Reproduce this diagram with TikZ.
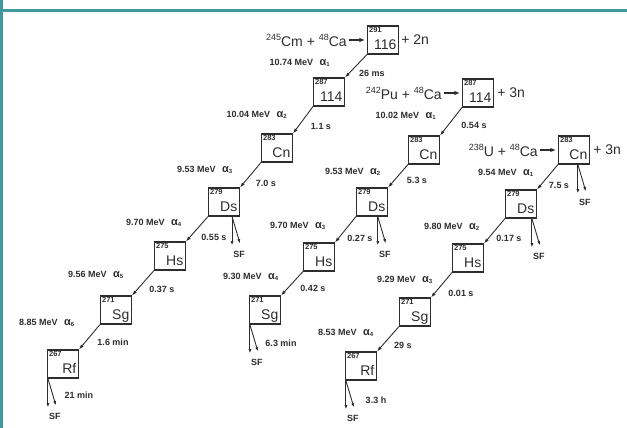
\documentclass[tikz,border=0pt]{standalone}
\usepackage{fontspec}
\setmainfont{Liberation Sans}
\usetikzlibrary{positioning, calc, arrows.meta}
\definecolor{framecol}{RGB}{64,152,158}
\definecolor{inkgray}{RGB}{45,45,45}
\newcommand{\alp}[1]{\ \,{\fontsize{11}{11}\selectfont α}\textsubscript{#1}}
\newcommand{\iso}[1]{\raisebox{0.42em}{\fontsize{9}{9}\selectfont #1}}
\tikzset{
  nucbox/.style={draw=inkgray, line width=1.1pt, minimum width=31pt, minimum height=28pt, inner sep=0pt},
  massno/.style={anchor=north west, inner sep=0pt, font=\fontsize{7.5}{7.5}\selectfont\bfseries, text=inkgray},
  elemsym/.style={anchor=base east, inner sep=0pt, font=\fontsize{14}{14}\selectfont, text=inkgray},
  rxn/.style={inner sep=0pt, font=\fontsize{14}{14}\selectfont, text=inkgray},
  rxnarrow/.style={draw=inkgray, line width=1.1pt, -{Latex[length=5.5pt,width=4.5pt]}, shorten >=2pt, shorten <=2pt},
  energy/.style={inner sep=0pt, font=\fontsize{9}{9}\selectfont\bfseries, text=inkgray},
  hlife/.style={inner sep=0pt, font=\fontsize{9}{9}\selectfont\bfseries, text=inkgray},
  adecay/.style={draw=inkgray, line width=0.9pt, -{Latex[length=5pt,width=3.5pt]}},
  sfarrow/.style={draw=inkgray, line width=0.9pt, -{Latex[length=4.5pt,width=3pt]}},
  sflabel/.style={inner sep=0pt, font=\fontsize{9}{9}\selectfont\bfseries, text=inkgray}
}
\newcommand{\nuc}[4]{%
  \node[nucbox] (#1) at (#2) {};
  \node[massno] (#1m) at ($(#1.north west)+(2,2)$) {#3};
  \node[elemsym] (#1s) at ($(#1.south east)+(-2.5,-5)$) {#4};
}

\begin{document}
\begin{tikzpicture}[x=1pt, y=-1pt]
  \useasboundingbox (0,0) rectangle (627,428);
  % frame
  \fill[framecol] (0,0) rectangle (3,428);
  \fill[framecol] (0,9) rectangle (627,12);

  % 245Cm chain
  \nuc{a116}{383,40}{291}{116}
  \nuc{a114}{329,92}{287}{114}
  \nuc{aCn}{277,148}{283}{Cn}
  \nuc{aDs}{224,202}{279}{Ds}
  \nuc{aHs}{170,256}{275}{Hs}
  \nuc{aSg}{116,310}{271}{Sg}
  \nuc{aRf}{63,364}{267}{Rf}
  % 242Pu chain
  \nuc{b114}{478,93}{287}{114}
  \nuc{bCn}{424,150}{283}{Cn}
  \nuc{bDs}{372,202}{279}{Ds}
  \nuc{bHs}{319,257}{275}{Hs}
  \nuc{bSg}{265,310}{271}{Sg}
  % 238U chain
  \nuc{cCn}{574,150}{283}{Cn}
  \nuc{cDs}{521,204}{279}{Ds}
  \nuc{cHs}{468,258}{275}{Hs}
  \nuc{cSg}{415,312}{271}{Sg}
  \nuc{cRf}{361,366}{267}{Rf}

  % reactions
  \node[rxn, left=20pt of a116] (aRx) {\iso{245}Cm + \iso{48}Ca};
  \node[rxn, right=2pt of a116] (aOut) {+ 2n};
  \node[rxn, left=20pt of b114] (bRx) {\iso{242}Pu + \iso{48}Ca};
  \node[rxn, right=3pt of b114] (bOut) {+ 3n};
  \node[rxn, left=20pt of cCn] (cRx) {\iso{238}U + \iso{48}Ca};
  \node[rxn, right=3pt of cCn] (cOut) {+ 3n};
  \foreach \r/\b in {aRx/a116, bRx/b114, cRx/cCn}
    \draw[rxnarrow] (\r) -- (\b);

  % alpha decays
  \foreach \u/\v in {a116/a114, a114/aCn, aCn/aDs, aDs/aHs, aHs/aSg, aSg/aRf,
                     b114/bCn, bCn/bDs, bDs/bHs, bHs/bSg,
                     cCn/cDs, cDs/cHs, cHs/cSg, cSg/cRf}
    \draw[adecay] (\u.south west) -- (\v.north east);

  % spontaneous fission
  \foreach \b/\f in {aDs/0.75, aRf/0.03, bDs/0.68, bSg/0.03, cCn/0.62, cDs/0.84, cRf/0.03}{
    \coordinate (\b F) at ($(\b.south west)!\f!(\b.south east)$);
    \coordinate (\b F1) at ($(\b F)+(0,29)$);
    \coordinate (\b F2) at ($(\b F)+(8,27)$);
    \draw[sfarrow] (\b F) -- (\b F1);
    \draw[sfarrow] (\b F) -- (\b F2);
    \node[sflabel] (\b SF) at ($(\b F)+(7,38)$) {SF};
  }

  % energies
  \foreach \x/\y/\t [count=\i] in {
      300/63/10.74 MeV \alp{1}, 257/115/10.04 MeV \alp{2}, 205/170/9.53 MeV \alp{3},
      154/223/9.70 MeV \alp{4}, 96/275/9.56 MeV \alp{5}, 47/323/8.85 MeV \alp{6},
      406/116/10.02 MeV \alp{1}, 353/172/9.53 MeV \alp{2}, 298/226/9.70 MeV \alp{3},
      251/277/9.30 MeV \alp{4},
      506/173/9.54 MeV \alp{1}, 452/227/9.80 MeV \alp{2}, 405/280/9.29 MeV \alp{3},
      346/333/8.53 MeV \alp{4}}
    \node[energy] (en\i) at (\x,\y) {\t};

  % half-lives
  \foreach \x/\y/\t [count=\i] in {
      372/73/26 ms, 321/126/1.1 s, 266/183/7.0 s, 214/237/0.55 s, 162/289/0.37 s,
      113/342/1.6 min, 79/395/21 min,
      474/125/0.54 s, 417/180/5.3 s, 360/238/0.27 s, 313/288/0.42 s, 281/343/6.3 min,
      559/185/7.5 s, 509/238/0.17 s, 461/293/0.01 s, 403/345/29 s, 376/400/3.3 h}
    \node[hlife] (hl\i) at (\x,\y) {\t};
\end{tikzpicture}
\end{document}
